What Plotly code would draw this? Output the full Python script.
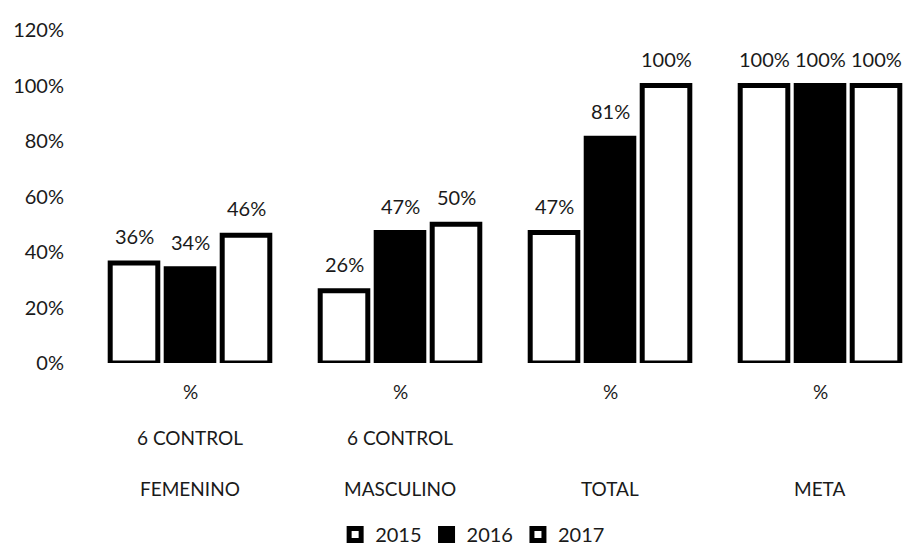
import plotly.graph_objects as go

# Indicator groups and their stacked axis captions
groups = ["FEMENINO", "MASCULINO", "TOTAL", "META"]
row_pct = ["%", "%", "%", "%"]
row_ctrl = ["6 CONTROL", "6 CONTROL", "", ""]

years = ["2015", "2016", "2017"]
values_2015 = [36, 26, 47, 100]
values_2016 = [34, 47, 81, 100]
values_2017 = [46, 50, 100, 100]

y_ticks = [0, 20, 40, 60, 80, 100, 120]

FONT = "Lato"
TXT = "#1a1a1a"
BARGAP = 0.2
series = [values_2015, values_2016, values_2017]
fills = ["white", "black", "white"]

fig = go.Figure()
annotations = []
slot = (1 - BARGAP) / len(series)
for k, (name, vals, fill) in enumerate(zip(years, series, fills)):
    fig.add_trace(go.Bar(
        name=name,
        x=list(range(len(groups))),
        y=vals,
        marker=dict(color=fill, line=dict(color="black", width=5)),
        cliponaxis=False,
    ))
    # value labels floating a little above each bar
    off = (k - (len(series) - 1) / 2) * slot
    for i, v in enumerate(vals):
        annotations.append(dict(
            x=i + off, y=v, xref="x", yref="y", text=f"{v}%", showarrow=False,
            yanchor="bottom", yshift=13,
            font=dict(family=FONT, size=20, color=TXT),
        ))

# Multi-row category captions under the axis
for i in range(len(groups)):
    for txt, yp in ((row_pct[i], -0.087), (row_ctrl[i], -0.225), (groups[i], -0.378)):
        if txt:
            annotations.append(dict(
                x=i, y=yp, xref="x", yref="paper", text=txt, showarrow=False,
                font=dict(family=FONT, size=19, color=TXT),
                xanchor="center", yanchor="middle",
            ))

fig.update_layout(
    width=908, height=548,
    margin=dict(l=85, r=0, t=30, b=185, autoexpand=False),
    paper_bgcolor="white", plot_bgcolor="white",
    barmode="group", bargap=BARGAP, bargroupgap=0.15,
    showlegend=True,
    legend=dict(
        orientation="h", x=0.471, xanchor="center", y=-0.515, yanchor="middle",
        font=dict(family=FONT, size=20, color=TXT),
        itemwidth=30, bgcolor="rgba(0,0,0,0)",
    ),
    annotations=annotations,
    xaxis=dict(range=[-0.5, 3.419], showticklabels=False, showgrid=False,
               zeroline=False, showline=False, fixedrange=True),
    yaxis=dict(range=[0, 120], tickvals=y_ticks,
               ticktext=[f"{t}%" for t in y_ticks], showgrid=False,
               zeroline=False, showline=False, ticklabelstandoff=20,
               tickfont=dict(family=FONT, size=20, color=TXT)),
)

fig.write_html("out.html")
